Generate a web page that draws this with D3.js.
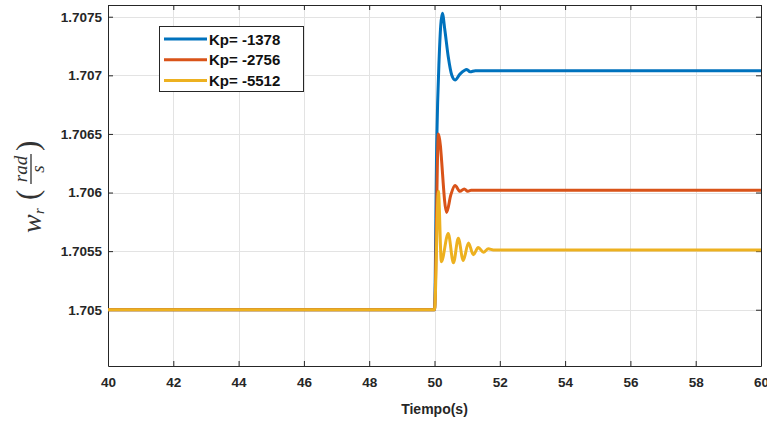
<!DOCTYPE html>
<html>
<head>
<meta charset="utf-8">
<script src="https://cdn.jsdelivr.net/npm/d3@7"></script>
<style>
  html, body { margin: 0; padding: 0; background: #fff; }
  svg { display: block; }
</style>
</head>
<body>
<svg id="chart" width="767" height="425"></svg>
<script>
// Rotor speed response to a step at t = 50 s for three proportional gains
const seriesNames = ["Kp= -1378", "Kp= -2756", "Kp= -5512"];
const seriesColors = ["#0072BD", "#D95319", "#EDB120"];

const timeKp1378 = [40, 50.0, 50.07, 50.14, 50.24, 50.32, 50.42, 50.53, 50.63, 50.78, 50.99, 51.09, 51.25, 60];
const wKp1378   = [1.70500, 1.70500, 1.70645, 1.70713, 1.70753, 1.70738, 1.70716, 1.70700, 1.70696, 1.70701, 1.70705, 1.70703, 1.70704, 1.70704];

const timeKp2756 = [40, 50.0, 50.12, 50.37, 50.50, 50.63, 50.78, 50.91, 51.02, 51.12, 51.24, 60];
const wKp2756   = [1.70500, 1.70500, 1.70650, 1.70583, 1.70598, 1.70606, 1.70601, 1.70603, 1.70601, 1.70602, 1.70602, 1.70602];

const timeKp5512 = [40, 50.0, 50.12, 50.21, 50.42, 50.58, 50.73, 50.88, 51.04, 51.19, 51.34, 51.50, 51.65, 51.80, 60];
const wKp5512   = [1.70500, 1.70500, 1.70601, 1.70541, 1.70565, 1.70540, 1.70561, 1.70542, 1.70557, 1.70547, 1.70553, 1.70549, 1.70552, 1.70551, 1.70551];

const xTicks = [40, 42, 44, 46, 48, 50, 52, 54, 56, 58, 60];
const yTicks = [1.705, 1.7055, 1.706, 1.7065, 1.707, 1.7075];
const yTickLabels = ["1.705", "1.7055", "1.706", "1.7065", "1.707", "1.7075"];
const xLabel = "Tiempo(s)";

const series = [
  { name: seriesNames[0], color: seriesColors[0], t: timeKp1378, w: wKp1378 },
  { name: seriesNames[1], color: seriesColors[1], t: timeKp2756, w: wKp2756 },
  { name: seriesNames[2], color: seriesColors[2], t: timeKp5512, w: wKp5512 }
];

const svg = d3.select("#chart");
const plotLeft = 108, plotRight = 761, plotTop = 5, plotBottom = 366;
const axisColor = "#262626";
const tickFont = "'Liberation Sans', Arial, sans-serif";

const x = d3.scaleLinear().domain([40, 60]).range([plotLeft, plotRight]);
const y = d3.scaleLinear().domain([1.70452, 1.7076]).range([plotBottom, plotTop]);

// grid
const grid = svg.append("g").attr("stroke", "#e3e3e3").attr("stroke-width", 1);
xTicks.forEach(v => grid.append("line")
  .attr("x1", Math.round(x(v)) + 0.5).attr("x2", Math.round(x(v)) + 0.5)
  .attr("y1", plotTop).attr("y2", plotBottom));
yTicks.forEach(v => grid.append("line")
  .attr("y1", Math.round(y(v)) + 0.5).attr("y2", Math.round(y(v)) + 0.5)
  .attr("x1", plotLeft).attr("x2", plotRight));

// axes with inward ticks
const fmtY = d => yTickLabels[yTicks.indexOf(d)];
const axB = svg.append("g").attr("transform", `translate(0,${plotBottom})`)
  .call(d3.axisBottom(x).tickValues(xTicks).tickSizeInner(-5).tickSizeOuter(0).tickPadding(11).tickFormat(d3.format("d")));
const axT = svg.append("g").attr("transform", `translate(0,${plotTop})`)
  .call(d3.axisTop(x).tickValues(xTicks).tickSizeInner(-5).tickSizeOuter(0).tickFormat(""));
const axL = svg.append("g").attr("transform", `translate(${plotLeft},0)`)
  .call(d3.axisLeft(y).tickValues(yTicks).tickSizeInner(-5).tickSizeOuter(0).tickPadding(6).tickFormat(fmtY));
const axR = svg.append("g").attr("transform", `translate(${plotRight},0)`)
  .call(d3.axisRight(y).tickValues(yTicks).tickSizeInner(-5).tickSizeOuter(0).tickFormat(""));

[axB, axT, axL, axR].forEach(a => {
  a.selectAll("path.domain").attr("stroke", axisColor);
  a.selectAll(".tick line").attr("stroke", axisColor);
  a.selectAll("text")
    .attr("fill", axisColor)
    .style("font-family", tickFont)
    .style("font-weight", "bold")
    .style("font-size", "13.5px");
});

// data lines
const line = d3.line()
  .x(d => x(d[0]))
  .y(d => y(d[1]))
  .curve(d3.curveMonotoneX);

const plot = svg.append("g");
series.forEach(s => {
  plot.append("path")
    .datum(s.t.map((t, i) => [t, s.w[i]]))
    .attr("fill", "none")
    .attr("stroke", s.color)
    .attr("stroke-width", 3)
    .attr("stroke-linejoin", "round")
    .attr("d", line);
});

// x label
svg.append("text")
  .attr("x", (plotLeft + plotRight) / 2)
  .attr("y", 414)
  .attr("text-anchor", "middle")
  .attr("fill", axisColor)
  .style("font-family", tickFont)
  .style("font-weight", "bold")
  .style("font-size", "14px")
  .text(xLabel);

// y label: w_r (rad / s), drawn rotated
const serif = "'Liberation Serif', 'DejaVu Serif', serif";
const yl = svg.append("g").attr("transform", "rotate(-90)").attr("fill", "#333")
  .style("font-family", serif).style("font-style", "italic");
yl.append("text").attr("x", -233).attr("y", 41).style("font-size", "28px").text("w");
yl.append("text").attr("x", -214).attr("y", 44).style("font-size", "15px").text("r");
yl.append("text").attr("x", -200).attr("y", 38).style("font-size", "31px").style("font-style", "normal").text("(");
yl.append("text").attr("x", -169).attr("y", 27).attr("text-anchor", "middle").style("font-size", "19px").text("rad");
yl.append("line").attr("x1", -184).attr("x2", -154).attr("y1", 31).attr("y2", 31)
  .attr("stroke", "#333").attr("stroke-width", 1.3);
yl.append("text").attr("x", -169).attr("y", 44).attr("text-anchor", "middle").style("font-size", "19px").text("s");
yl.append("text").attr("x", -151).attr("y", 38).style("font-size", "31px").style("font-style", "normal").text(")");

// legend
const lg = svg.append("g");
lg.append("rect").attr("x", 159.5).attr("y", 26.5).attr("width", 144).attr("height", 65)
  .attr("fill", "#fff").attr("stroke", axisColor).attr("stroke-width", 1);
series.forEach((s, i) => {
  const yy = 39 + i * 20.8;
  lg.append("line").attr("x1", 164).attr("x2", 207).attr("y1", yy).attr("y2", yy)
    .attr("stroke", s.color).attr("stroke-width", 3);
  lg.append("text").attr("x", 209).attr("y", yy + 5.5)
    .attr("fill", "#111")
    .style("font-family", tickFont).style("font-weight", "bold").style("font-size", "15px")
    .text(s.name);
});
</script>
</body>
</html>
